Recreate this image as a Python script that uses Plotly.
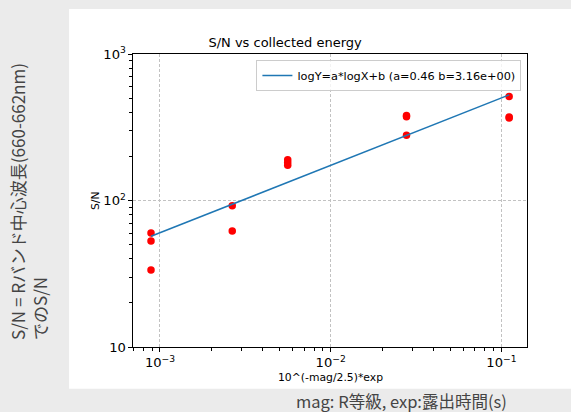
import numpy as np
import plotly.graph_objects as go

# data
x_vals = [8.86e-4, 8.86e-4, 8.86e-4,
          2.65e-3, 2.65e-3,
          5.6e-3, 5.6e-3, 5.6e-3,
          2.78e-2, 2.78e-2, 2.78e-2,
          0.111, 0.111, 0.111]
sn_vals = [60, 53, 33.6,
           92, 62,
           190, 182, 174,
           381, 373, 279,
           512, 372, 365]
fit_a = 0.46
fit_b = 3.16
legend_label = "logY=a*logX+b (a=0.46 b=3.16e+00)"
title_text = "S/N vs collected energy"
x_label = "10^(-mag/2.5)*exp"
y_label = "S/N"
side_note = "S/N = Rバンド中心波長(660-662nm)<br>でのS/N"
bottom_note = "mag: R等級, exp:露出時間(s)"

W, H = 571, 412
L, R, T, B = 133, 527.3, 54, 347.3
pw, ph = R - L, B - T
x_range = [-3 - 27 / 170.8, -1 + 25.6 / 170.8]
y_range = [1, 3]


def px(x):
    return (x - L) / pw


def py(y):
    return (B - y) / ph


def minor_positions(rng):
    out = []
    for e in range(int(np.floor(rng[0])), int(np.ceil(rng[1])) + 1):
        for m in range(2, 10):
            v = m * 10.0 ** e
            if rng[0] <= np.log10(v) <= rng[1]:
                out.append(v)
    return out


fit_x = [min(x_vals), max(x_vals)]
fit_y = [10 ** (fit_a * np.log10(v) + fit_b) for v in fit_x]

fig = go.Figure()
fig.add_trace(go.Scatter(x=x_vals, y=sn_vals, mode="markers",
                         marker=dict(color="#ff0000", size=7.5),
                         showlegend=False))
fig.add_trace(go.Scatter(x=fit_x, y=fit_y, mode="lines",
                         line=dict(color="#1f77b4", width=1.5),
                         name=legend_label, showlegend=True))
# invisible trace to carry the minor-tick axes
fig.add_trace(go.Scatter(x=[fit_x[0]], y=[fit_y[0]], xaxis="x2", yaxis="y2",
                         mode="markers", marker=dict(opacity=0), showlegend=False,
                         hoverinfo="skip"))

axis_common = dict(
    type="log", showline=True, linecolor="black", linewidth=1, mirror=True,
    ticks="outside", ticklen=4, tickcolor="black", tickwidth=1,
    showgrid=True, gridcolor="#c2c2c2", griddash="3px,2px", gridwidth=1,
    exponentformat="power", dtick=1, zeroline=False,
    tickfont=dict(family="DejaVu Sans", size=10.5, color="black"),
)
minor_common = dict(
    type="log", showline=False, showgrid=False, zeroline=False,
    ticks="outside", ticklen=3, tickcolor="black", tickwidth=1,
    showticklabels=False,
)

fig.update_layout(
    xaxis=dict(**axis_common, range=x_range),
    yaxis=dict(**axis_common, range=y_range),
    xaxis2=dict(**minor_common, range=x_range, overlaying="x", side="bottom",
                anchor="y2", tickvals=minor_positions(x_range)),
    yaxis2=dict(**minor_common, range=y_range, overlaying="y", side="left",
                anchor="x2", tickvals=minor_positions(y_range)),
)

fig.update_layout(
    width=W, height=H,
    margin=dict(l=L, r=W - R, t=T, b=H - B),
    paper_bgcolor="#ebebeb", plot_bgcolor="white",
    title=dict(text=title_text, x=px((251.7 + 408) / 2), xanchor="center",
               y=1 - 42 / H, yanchor="middle",
               font=dict(family="DejaVu Sans", size=13, color="black")),
    legend=dict(x=px(521.7), xanchor="right", y=py(60), yanchor="top",
                bgcolor="rgba(255,255,255,0.8)", bordercolor="#cccccc", borderwidth=1,
                font=dict(family="DejaVu Sans", size=11.3, color="black"),
                itemwidth=30, tracegroupgap=0),
    shapes=[dict(type="rect", xref="paper", yref="paper",
                 x0=px(69), x1=px(575), y0=py(389), y1=py(9),
                 fillcolor="white", line=dict(width=0), layer="below")],
    annotations=[
        dict(text=x_label, xref="paper", yref="paper", x=px(330.5), y=py(377.5),
             xanchor="center", yanchor="middle", showarrow=False,
             font=dict(family="DejaVu Sans", size=10.8, color="black")),
        dict(text=y_label, xref="paper", yref="paper", x=px(95.5), y=py(200.7),
             xanchor="center", yanchor="middle", showarrow=False, textangle=-90,
             font=dict(family="DejaVu Sans", size=10.8, color="black")),
        dict(text=side_note, xref="paper", yref="paper", x=px(28.5), y=py(201.5),
             xanchor="center", yanchor="middle", textangle=-90, align="left",
             showarrow=False,
             font=dict(family="Noto Sans CJK JP", size=17, color="#444444")),
        dict(text=bottom_note, xref="paper", yref="paper", x=px(402), y=py(401),
             xanchor="center", yanchor="middle", showarrow=False,
             font=dict(family="Noto Sans CJK JP", size=16.5, color="#444444")),
    ],
)

fig.write_html("out.html")
